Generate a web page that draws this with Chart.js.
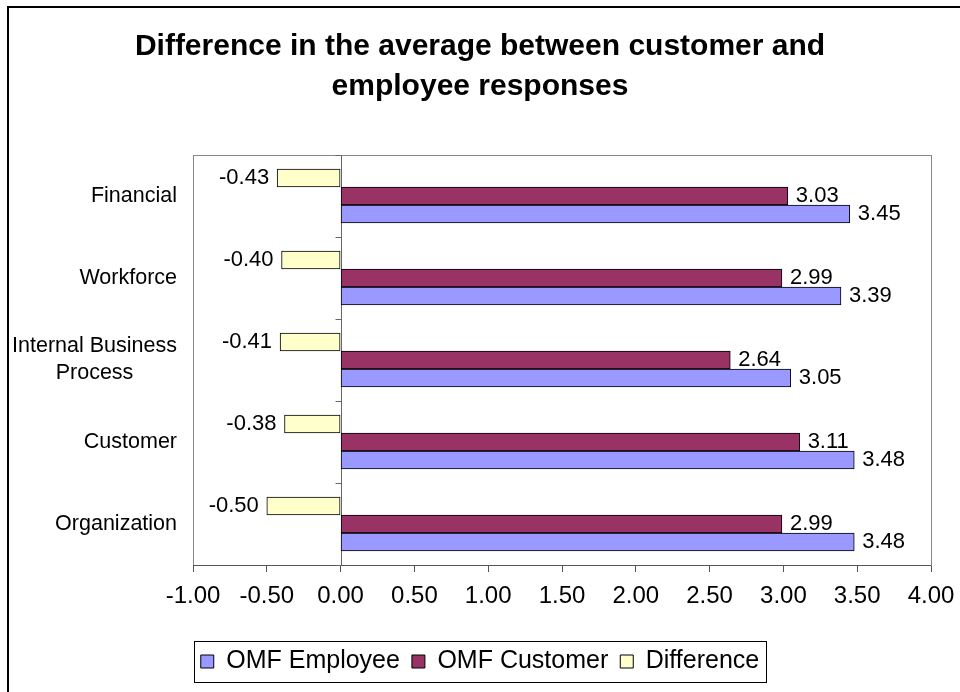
<!DOCTYPE html>
<html>
<head>
<meta charset="utf-8">
<title>Difference in the average between customer and employee responses</title>
<script src="https://cdn.jsdelivr.net/npm/chart.js@4.4.1/dist/chart.umd.min.js"></script>
<style>
  html, body { margin: 0; padding: 0; background: #fff; }
  canvas { display: block; }
</style>
</head>
<body>
<canvas id="diffChart" width="960" height="692"></canvas>
<script>
const categories = ['Financial', 'Workforce', ['Internal Business', 'Process'], 'Customer', 'Organization'];
const omfEmployee = [3.45, 3.39, 3.05, 3.48, 3.48];
const omfCustomer = [3.03, 2.99, 2.64, 3.11, 2.99];
const difference = [-0.43, -0.40, -0.41, -0.38, -0.50];
const xMin = -1, xMax = 4, xStep = 0.5;

const FONT = "'Liberation Sans', Arial, sans-serif";

// frame around the whole chart, plot box, category ticks, labels
const decorations = {
  id: 'decorations',
  beforeDatasetsDraw(chart) {
    const { ctx, chartArea: a } = chart;
    ctx.save();
    ctx.strokeStyle = '#888';
    ctx.lineWidth = 1;
    ctx.strokeRect(a.left + 0.5, a.top + 0.5, a.right - a.left, a.bottom - a.top);
    ctx.strokeStyle = '#555';
    ctx.beginPath();
    ctx.moveTo(a.left, a.bottom + 0.5);
    ctx.lineTo(a.right, a.bottom + 0.5);
    ctx.stroke();

    // zero line with category boundary ticks
    const x0 = Math.round(chart.scales.x.getPixelForValue(0)) + 0.5;
    const ys = chart.scales.y;
    ctx.strokeStyle = '#666';
    ctx.beginPath();
    ctx.moveTo(x0, a.top);
    ctx.lineTo(x0, a.bottom);
    for (let i = 0; i <= categories.length; i++) {
      const y = Math.round(ys.getPixelForValue(i - 0.5)) + 0.5;
      ctx.moveTo(x0 - 6, y);
      ctx.lineTo(x0, y);
    }
    ctx.stroke();
    ctx.restore();
  },
  afterDraw(chart) {
    const { ctx, chartArea: a } = chart;
    ctx.save();

    // outer frame
    ctx.strokeStyle = '#000';
    ctx.lineWidth = 2;
    ctx.strokeRect(8, 7, 970, 720);

    // category labels: block right aligned, lines centred
    ctx.fillStyle = '#000';
    ctx.font = '21.5px ' + FONT;
    ctx.textBaseline = 'middle';
    ctx.textAlign = 'center';
    const lineH = 27;
    categories.forEach((c, i) => {
      const lines = Array.isArray(c) ? c : [c];
      const w = Math.max(...lines.map(l => ctx.measureText(l).width));
      const cx = a.left - 16 - w / 2;
      const cy = chart.scales.y.getPixelForValue(i);
      lines.forEach((l, j) => {
        ctx.fillText(l, cx, cy + (j - (lines.length - 1) / 2) * lineH);
      });
    });

    // value labels at bar ends
    ctx.font = '22px ' + FONT;
    chart.data.datasets.forEach((ds, di) => {
      const meta = chart.getDatasetMeta(di);
      meta.data.forEach((bar, i) => {
        const v = ds.data[i];
        ctx.textAlign = v < 0 ? 'right' : 'left';
        ctx.fillText(v.toFixed(2), bar.x + (v < 0 ? -8 : 8), bar.y);
      });
    });

    // legend frame
    const hb = chart.legend.legendHitBoxes;
    if (hb && hb.length) {
      const first = hb[0], last = hb[hb.length - 1];
      ctx.strokeStyle = '#000';
      ctx.lineWidth = 1;
      ctx.strokeRect(Math.round(first.left - 7) + 0.5, Math.round(first.top - 8) + 0.5,
        Math.round(last.left + last.width - first.left + 14), Math.round(first.height + 16));
    }
    ctx.restore();
  }
};

new Chart(document.getElementById('diffChart'), {
  type: 'bar',
  data: {
    labels: categories,
    datasets: [
      {
        label: 'Difference',
        data: difference,
        backgroundColor: '#FFFFCC',
        borderColor: '#000',
        borderWidth: 1,
        borderSkipped: false,
        barThickness: 18
      },
      {
        label: 'OMF Customer',
        data: omfCustomer,
        backgroundColor: '#993366',
        borderColor: '#000',
        borderWidth: 1,
        borderSkipped: false,
        barThickness: 18
      },
      {
        label: 'OMF Employee',
        data: omfEmployee,
        backgroundColor: '#9999FF',
        borderColor: '#000',
        borderWidth: 1,
        borderSkipped: false,
        barThickness: 18
      }
    ]
  },
  options: {
    indexAxis: 'y',
    responsive: false,
    animation: false,
    devicePixelRatio: 1,
    layout: { padding: { top: 27, left: 29, right: 29, bottom: 8 } },
    scales: {
      x: {
        min: xMin,
        max: xMax,
        afterBuildTicks(scale) {
          const t = [];
          for (let v = xMin; v <= xMax + 1e-9; v += xStep) t.push({ value: Math.round(v * 100) / 100 });
          scale.ticks = t;
        },
        afterFit(scale) {
          scale.height = 72;
          scale.paddingLeft = 0;
          scale.paddingRight = 0;
        },
        border: { display: false },
        grid: {
          drawOnChartArea: false,
          drawTicks: true,
          tickLength: 7,
          tickColor: '#555'
        },
        ticks: {
          autoSkip: false,
          maxRotation: 0,
          padding: 10,
          color: '#000',
          font: { family: FONT, size: 24 },
          callback: v => Number(v).toFixed(2)
        }
      },
      y: {
        afterFit(scale) { scale.width = 164; },
        border: { display: false },
        grid: { display: false },
        ticks: { display: false }
      }
    },
    plugins: {
      title: {
        display: true,
        text: ['Difference in the average between customer and', 'employee responses'],
        color: '#000',
        font: { family: FONT, size: 30, weight: 'bold', lineHeight: 1.3333 },
        padding: { top: 0, bottom: 48 }
      },
      legend: {
        position: 'bottom',
        reverse: true,
        labels: {
          color: '#000',
          font: { family: FONT, size: 25 },
          boxWidth: 13,
          boxHeight: 13,
          padding: 12
        }
      },
      tooltip: { enabled: false }
    }
  },
  plugins: [decorations]
});
</script>
</body>
</html>
